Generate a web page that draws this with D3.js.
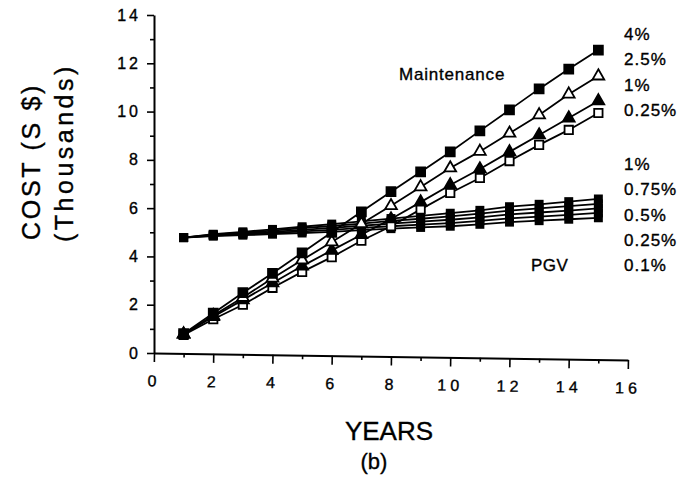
<!DOCTYPE html>
<html>
<head>
<meta charset="utf-8">
<script src="https://cdn.jsdelivr.net/npm/d3@7"></script>
<style>
  html, body { margin: 0; padding: 0; background: #fff; }
  svg { display: block; }
  text { font-family: "Liberation Sans", Arial, Helvetica, sans-serif; fill: #000; stroke: #000; stroke-width: 0.35px; }
</style>
</head>
<body>
<svg id="chart" width="700" height="478"></svg>
<script>
// ---------------- data ----------------
const years = [1, 2, 3, 4, 5, 6, 7, 8, 9, 10, 11, 12, 13, 14, 15];

// Maintenance cost (thousands S$) by rate
const maint4   = [0.80, 1.65, 2.50, 3.30, 4.15, 5.00, 5.85, 6.68, 7.50, 8.33, 9.20, 10.07, 10.94, 11.76, 12.55];
const maint2_5 = [0.78, 1.55, 2.30, 3.10, 3.85, 4.60, 5.35, 6.10, 6.88, 7.66, 8.35, 9.10, 9.86, 10.72, 11.47];
const maint1   = [0.78, 1.50, 2.20, 2.90, 3.60, 4.25, 4.90, 5.55, 6.25, 6.96, 7.62, 8.33, 9.03, 9.73, 10.44];
const maint0_25= [0.75, 1.40, 2.00, 2.70, 3.36, 3.97, 4.65, 5.25, 5.95, 6.63, 7.25, 7.95, 8.62, 9.24, 9.94];

// PGV cost by rate
const pgv1    = [4.78, 4.92, 5.02, 5.12, 5.23, 5.34, 5.45, 5.57, 5.68, 5.79, 5.91, 6.06, 6.16, 6.27, 6.38];
const pgv0_75 = [4.78, 4.90, 4.99, 5.07, 5.17, 5.26, 5.36, 5.47, 5.56, 5.66, 5.77, 5.90, 5.99, 6.08, 6.18];
const pgv0_5  = [4.78, 4.88, 4.95, 5.02, 5.10, 5.18, 5.27, 5.36, 5.44, 5.52, 5.62, 5.74, 5.82, 5.90, 5.99];
const pgv0_25 = [4.78, 4.86, 4.91, 4.97, 5.04, 5.10, 5.18, 5.25, 5.32, 5.38, 5.47, 5.58, 5.65, 5.72, 5.80];
const pgv0_1  = [4.78, 4.84, 4.88, 4.92, 4.97, 5.02, 5.09, 5.15, 5.20, 5.25, 5.33, 5.42, 5.48, 5.54, 5.60];

const maintLabels = ["4%", "2.5%", "1%", "0.25%"];
const pgvLabels = ["1%", "0.75%", "0.5%", "0.25%", "0.1%"];
const xTicks = [0, 2, 4, 6, 8, 10, 12, 14, 16];
const xMinorTicks = [1, 3, 5, 7, 9, 11, 13, 15];
const yTicks = [0, 2, 4, 6, 8, 10, 12, 14];
const yMinorTicks = [1, 3, 5, 7, 9, 11, 13];

// ---------------- chart ----------------
const svg = d3.select("#chart");
const x = d3.scaleLinear().domain([0, 16]).range([154, 628]);
const y = d3.scaleLinear().domain([0, 14]).range([353, 15]);

// y axis
const yAxis = svg.append("g").attr("transform", "translate(154,0)");
yAxis.call(d3.axisLeft(y).tickValues(yTicks).tickSize(7).tickSizeOuter(0).tickPadding(9).tickFormat(d3.format("d")));
yAxis.append("g").call(d3.axisLeft(y).tickValues(yMinorTicks).tickSize(4).tickFormat(""))
  .select(".domain").remove();
yAxis.selectAll("path.domain").attr("stroke", "#000").attr("stroke-width", 2);
yAxis.selectAll("line").attr("stroke", "#000").attr("stroke-width", 1.6);
yAxis.selectAll("text").style("font-size", "16px").style("letter-spacing", "3px")
  .attr("font-family", "Liberation Sans, Arial, sans-serif").attr("dx", "3px");

// x axis (slightly skewed like the scan)
const xAxis = svg.append("g").attr("transform", "rotate(0.85,154,353) translate(0,353)");
xAxis.call(d3.axisBottom(x).tickValues(xTicks).tickSize(9).tickSizeOuter(0).tickPadding(13).tickFormat(d3.format("d")));
xAxis.append("g").call(d3.axisBottom(x).tickValues(xMinorTicks).tickSize(4).tickFormat(""))
  .select(".domain").remove();
xAxis.selectAll("path.domain").attr("stroke", "#000").attr("stroke-width", 2);
xAxis.selectAll("line").attr("stroke", "#000").attr("stroke-width", 1.6);
xAxis.selectAll("text").style("font-size", "16px").style("letter-spacing", "4px")
  .attr("font-family", "Liberation Sans, Arial, sans-serif").attr("dx", "0px");

const line = d3.line().x((d, i) => x(years[i])).y(d => y(d));

const pgvSeries = [pgv0_1, pgv0_25, pgv0_5, pgv0_75, pgv1];
const maintSeries = [
  { v: maint0_25, shape: d3.symbolSquare, fill: "#fff", size: 70 },
  { v: maint1, shape: d3.symbolTriangle, fill: "#000", size: 60 },
  { v: maint2_5, shape: d3.symbolTriangle, fill: "#fff", size: 60 },
  { v: maint4, shape: d3.symbolSquare, fill: "#000", size: 80 }
];

// PGV lines
pgvSeries.forEach(s => {
  svg.append("path").datum(s).attr("d", line)
    .attr("fill", "none").attr("stroke", "#000").attr("stroke-width", 1.8);
});
pgvSeries.forEach(s => {
  svg.append("g").selectAll("path").data(s).join("path")
    .attr("transform", (d, i) => `translate(${x(years[i])},${y(d)})`)
    .attr("d", d3.symbol().type(d3.symbolSquare).size(80))
    .attr("fill", "#000");
});

// Maintenance lines
maintSeries.forEach(s => {
  svg.append("path").datum(s.v).attr("d", line)
    .attr("fill", "none").attr("stroke", "#000").attr("stroke-width", 1.8);
});
maintSeries.forEach(s => {
  svg.append("g").selectAll("path").data(s.v).join("path")
    .attr("transform", (d, i) => `translate(${x(years[i])},${y(d)})`)
    .attr("d", d3.symbol().type(s.shape).size(s.size))
    .attr("fill", s.fill).attr("stroke", "#000").attr("stroke-width", 1.8);
});

// right labels
svg.append("g").selectAll("text").data(maintLabels).join("text")
  .attr("x", 624).attr("y", (d, i) => 40 + i * 25.3)
  .style("font-size", "17px").style("letter-spacing", "1px").text(d => d);
svg.append("g").selectAll("text").data(pgvLabels).join("text")
  .attr("x", 624).attr("y", (d, i) => 170 + i * 25.3)
  .style("font-size", "17px").style("letter-spacing", "1px").text(d => d);

svg.append("text").attr("x", 399).attr("y", 80)
  .style("font-size", "17px").style("letter-spacing", "0.8px").text("Maintenance");
svg.append("text").attr("x", 531).attr("y", 271)
  .style("font-size", "17px").style("letter-spacing", "0.5px").text("PGV");

// axis titles
svg.append("text").attr("transform", "translate(40,240) rotate(-90)")
  .style("font-size", "25px").style("letter-spacing", "2.7px").text("COST (S $)");
svg.append("text").attr("transform", "translate(73,242) rotate(-90)")
  .style("font-size", "25px").style("letter-spacing", "3.5px").text("(Thousands)");
svg.append("text").attr("x", 389).attr("y", 440).attr("text-anchor", "middle")
  .style("font-size", "26px").text("YEARS");
svg.append("text").attr("x", 374).attr("y", 469).attr("text-anchor", "middle")
  .style("font-size", "22px").text("(b)");
</script>
</body>
</html>
